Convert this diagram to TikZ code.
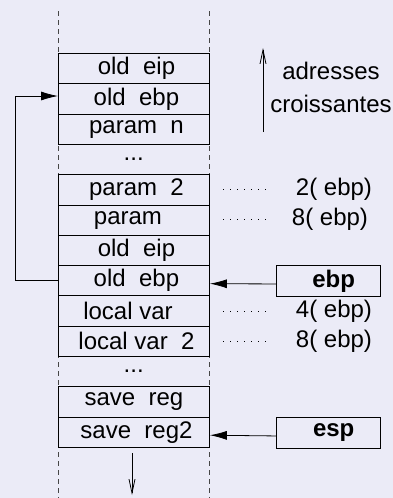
\documentclass[tikz,border=0pt]{standalone}
\usepackage{fontspec}
\setmainfont{Liberation Sans}
\usetikzlibrary{arrows.meta}
\definecolor{bgcol}{RGB}{235,235,247}
\definecolor{guide}{RGB}{70,70,70}
\begin{document}
\begin{tikzpicture}[x=1pt,y=-1pt,
  txt/.style={font=\fontsize{24}{27}\selectfont},
  cell/.style={txt, draw=black, line width=0.9pt, minimum width=151pt,
    minimum height=30.3pt, inner sep=0pt, anchor=north west},
  gap/.style={txt, minimum width=151pt, minimum height=30.3pt, inner sep=0pt, anchor=north west},
  regbox/.style={txt, draw=black, line width=1.4pt, minimum width=104pt,
    minimum height=30.5pt, inner sep=0pt, anchor=north west, font=\fontsize{24}{27}\selectfont\bfseries},
  lead/.style={line width=0.8pt, dash pattern=on 1pt off 6pt},
  offs/.style={txt, anchor=center},
  ptr/.style={line width=0.8pt, -{Latex[length=17pt,width=9pt]}},
  dir/.style={line width=0.8pt, -{Straight Barb[length=14pt,width=6pt]}}
]
% canvas
\fill[bgcol] (0,0) rectangle (393,498);
\useasboundingbox (0,0) rectangle (393,498);

% dashed stack borders
\draw[guide, line width=0.9pt, dash pattern=on 5pt off 4pt] (58,11) -- (58,498);
\draw[guide, line width=0.9pt, dash pattern=on 5pt off 4pt] (209,11) -- (209,498);

% caller frame
\node[cell] (eipA) at (58,53)    {\hspace*{5pt}old\ \ eip};
\node[cell] (ebpA) at (58,83.3)  {\hspace*{5pt}old\ \ ebp};
\node[cell] (parn) at (58,113.6) {\hspace*{5pt}param\ \ n};
\node[gap]  (dotsA) at (58,144)  {...};
\node[cell] (par2) at (58,174.2) {\hspace*{5pt}param\ \ 2};
\node[cell] (par1) at (58,204.5) {param\hspace*{12pt}};
\node[cell] (eipB) at (58,234.8) {\hspace*{5pt}old\ \ eip};
\node[cell] (ebpB) at (58,265.1) {\hspace*{5pt}old\ \ ebp};
\node[cell] (loc1) at (58,295.4) {local var\hspace*{12pt}};
\node[cell] (loc2) at (58,325.7) {\hspace*{5pt}local var\ \ 2};
\node[gap]  (dotsB) at (58,356) {...};
\node[cell] (sav1) at (58,386.3) {save\ \ reg};
\node[cell] (sav2) at (58,416.6) {\hspace*{5pt}save\ \ reg2};

% stack growth
\coordinate (growS) at (132,453);
\coordinate (growE) at (132,495);
\draw[dir] (growS) -- (growE);

% saved frame pointer chain
\coordinate (loopX) at (15,0);
\coordinate (loopT) at (15,96);
\draw[ptr] (ebpB.west) -- (ebpB.west -| loopX) -- (loopT) -- (loopT -| ebpA.west);

% address direction
\coordinate (upS) at (263,132);
\coordinate (upE) at (263,48);
\draw[dir] (upS) -- (upE);
\node[txt, align=center, anchor=center] (addr) at (331,87) {adresses\\[6pt]croissantes};

% offsets relative to ebp
\coordinate (d1a) at (223,189); \coordinate (d1b) at (266,189);
\coordinate (d2a) at (223,219); \coordinate (d2b) at (266,219);
\coordinate (d3a) at (223,311); \coordinate (d3b) at (266,311);
\coordinate (d4a) at (223,341); \coordinate (d4b) at (266,341);
\draw[lead] (d1a) -- (d1b);
\draw[lead] (d2a) -- (d2b);
\draw[lead] (d3a) -- (d3b);
\draw[lead] (d4a) -- (d4b);
\node[offs] (o1) at (334,189) {2( ebp)};
\node[offs] (o2) at (330,219) {8( ebp)};
\node[offs] (o3) at (334,311) {4( ebp)};
\node[offs] (o4) at (334,341) {8( ebp)};

% registers
\node[regbox] (ebpR) at (276,265) {\hspace*{10pt}ebp};
\node[regbox] (espR) at (276,417) {\hspace*{10pt}esp};
\draw[ptr] ([yshift=-3pt]ebpR.west) -- ([yshift=-3pt]ebpB.east);
\draw[ptr] ([yshift=-3pt]espR.west) -- ([yshift=-3pt]sav2.east);
\end{tikzpicture}
\end{document}
